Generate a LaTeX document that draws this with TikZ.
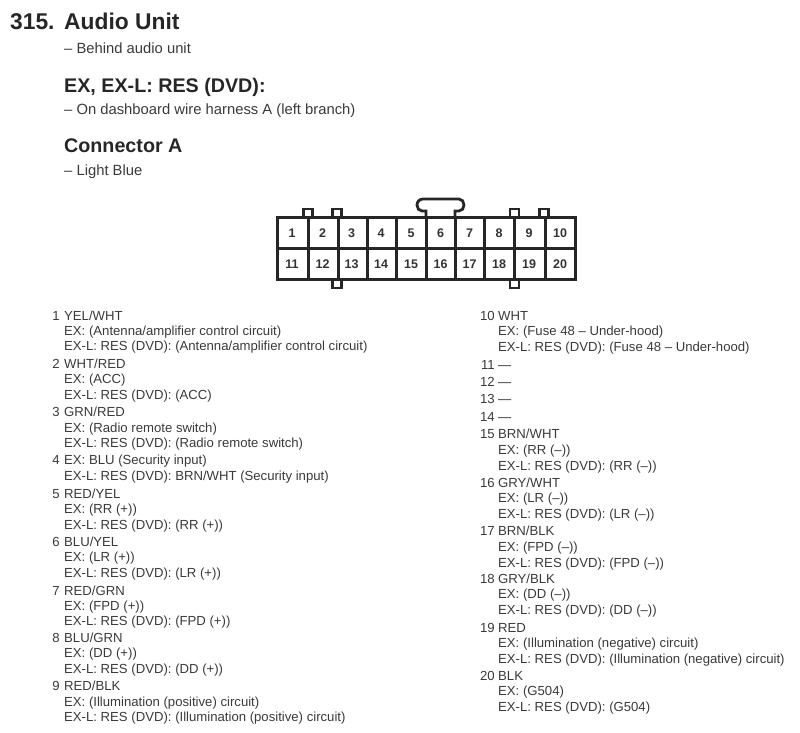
\documentclass[tikz,border=0pt]{standalone}
\usepackage{fontspec}
\setmainfont{Liberation Sans}
\usepackage{xcolor}
\usetikzlibrary{positioning}
\definecolor{inkgray}{HTML}{3A3A3A}
\begin{document}
\begin{tikzpicture}[
		x=1pt, y=-1pt,
		title/.style={anchor=west, inner sep=0pt, text height=16.5pt, text depth=0pt, font=\fontsize{22.8}{25}\selectfont\bfseries, text=black!85},
		head/.style={anchor=west, inner sep=0pt, text height=14.2pt, text depth=0pt, font=\fontsize{19.7}{22}\selectfont\bfseries, text=black!85},
		sub/.style={anchor=west, inner sep=0pt, text height=10.6pt, text depth=0pt, font=\fontsize{14.8}{17}\selectfont, text=inkgray},
		item/.style={anchor=west, inner sep=0pt, yshift=-0.6pt, text height=9.5pt, text depth=0pt, font=\fontsize{13.15}{15}\selectfont, text=inkgray},
		num/.style={anchor=east, inner sep=0pt, yshift=-0.6pt, text height=9.5pt, text depth=0pt, font=\fontsize{13.15}{15}\selectfont, text=inkgray},
		pin/.style={anchor=center, inner sep=0pt, text height=9pt, text depth=0pt, font=\fontsize{12.5}{14}\selectfont\bfseries, text=black!80},
		wall/.style={draw=black!85, line width=3pt},
		tab/.style={draw=black!85, line width=2.8pt, fill=white}
		]
		\useasboundingbox (0,0) rectangle (800,733);
		
		\node[title] (nr) at (10, 21) {315.};
		\node[title] (unit) at (64, 21) {Audio Unit};
		\node[sub] (where) at (64, 48.5) {– Behind audio unit};
		\node[head] (model) at (64, 85) {EX, EX-L: RES (DVD):};
		\node[sub] (harness) at (64, 109.5) {– On dashboard wire harness A (left branch)};
		\node[head] (conn) at (64, 145.5) {Connector A};
		\node[sub] (colour) at (64, 170) {– Light Blue};
		
		% latch and tabs
		\draw[tab] (426,217) -- (426,211) -- (422,211) to[out=180,in=270] (417,205) to[out=90,in=180] (423,199) -- (459,199) to[out=0,in=90] (464,205) to[out=270,in=0] (459,211) -- (455,211) -- (455,217);
		\foreach \x in {308,337,514.5,544} {
			\draw[tab] (\x-4.5,217) rectangle (\x+4.5,209);
		}
		\foreach \x in {337,514.5} {
			\draw[tab] (\x-4.5,279) rectangle (\x+4.5,288);
		}
		
		% pins
		\foreach \n/\x in {1/292,2/322.5,3/351.5,4/381,5/411,6/440.5,7/469.5,8/499,9/529,10/560} {
			\node[pin] (p\n) at (\x, 233) {\n};
		}
		\foreach \n/\x in {11/292,12/322.5,13/351.5,14/381,15/411,16/440.5,17/469.5,18/499,19/529,20/560} {
			\node[pin] (p\n) at (\x, 264) {\n};
		}
		\draw[wall] (277,217) rectangle (575,279);
		\draw[wall] (277,248) -- (575,248);
		\foreach \x in {308,338,367,396,426,455,484,514,545} {
			\draw[wall] (\x,217) -- (\x,279);
		}
		
		% left column
		\foreach \n/\y in {1/315,2/363,3/411,4/459,5/493,6/541,7/590,8/637,9/685} {
			\node[num] (n\n) at (60, \y) {\n};
		}
		\foreach \k/\y/\t in {1/315/{YEL/WHT},2/330/{EX: (Antenna/amplifier control circuit)},3/345/{EX-L: RES (DVD): (Antenna/amplifier control circuit)},
			4/363/{WHT/RED},5/378/{EX: (ACC)},6/394/{EX-L: RES (DVD): (ACC)},
			7/411/{GRN/RED},8/427/{EX: (Radio remote switch)},9/442/{EX-L: RES (DVD): (Radio remote switch)},
			10/459/{EX: BLU (Security input)},11/475/{EX-L: RES (DVD): BRN/WHT (Security input)},
			12/493/{RED/YEL},13/508/{EX: (RR (+))},14/524/{EX-L: RES (DVD): (RR (+))},
			15/541/{BLU/YEL},16/556/{EX: (LR (+))},17/572/{EX-L: RES (DVD): (LR (+))},
			18/590/{RED/GRN},19/605/{EX: (FPD (+))},20/620/{EX-L: RES (DVD): (FPD (+))},
			21/637/{BLU/GRN},22/652/{EX: (DD (+))},23/668/{EX-L: RES (DVD): (DD (+))},
			24/685/{RED/BLK},25/701/{EX: (Illumination (positive) circuit)},26/716/{EX-L: RES (DVD): (Illumination (positive) circuit)}} {
			\node[item] (l\k) at (64, \y) {\t};
		}
		
		% right column
		\foreach \n/\y in {10/315,11/364,12/381,13/398,14/416,15/433,16/482,17/530,18/578,19/627,20/675} {
			\node[num] (n\n) at (495, \y) {\n};
		}
		\foreach \k/\y/\t in {1/315/{WHT},2/330/{EX: (Fuse 48 – Under-hood)},3/346/{EX-L: RES (DVD): (Fuse 48 – Under-hood)},
			4/364/{—},5/381/{—},6/398/{—},7/416/{—},
			8/433/{BRN/WHT},9/449/{EX: (RR (–))},10/465/{EX-L: RES (DVD): (RR (–))},
			11/482/{GRY/WHT},12/497/{EX: (LR (–))},13/513/{EX-L: RES (DVD): (LR (–))},
			14/530/{BRN/BLK},15/546/{EX: (FPD (–))},16/562/{EX-L: RES (DVD): (FPD (–))},
			17/578/{GRY/BLK},18/593/{EX: (DD (–))},19/609/{EX-L: RES (DVD): (DD (–))},
			20/627/{RED},21/642/{EX: (Illumination (negative) circuit)},22/658/{EX-L: RES (DVD): (Illumination (negative) circuit)},
			23/675/{BLK},24/690/{EX: (G504)},25/706/{EX-L: RES (DVD): (G504)}} {
			\node[item] (r\k) at (498, \y) {\t};
		}
		\end{tikzpicture}
\end{document}
